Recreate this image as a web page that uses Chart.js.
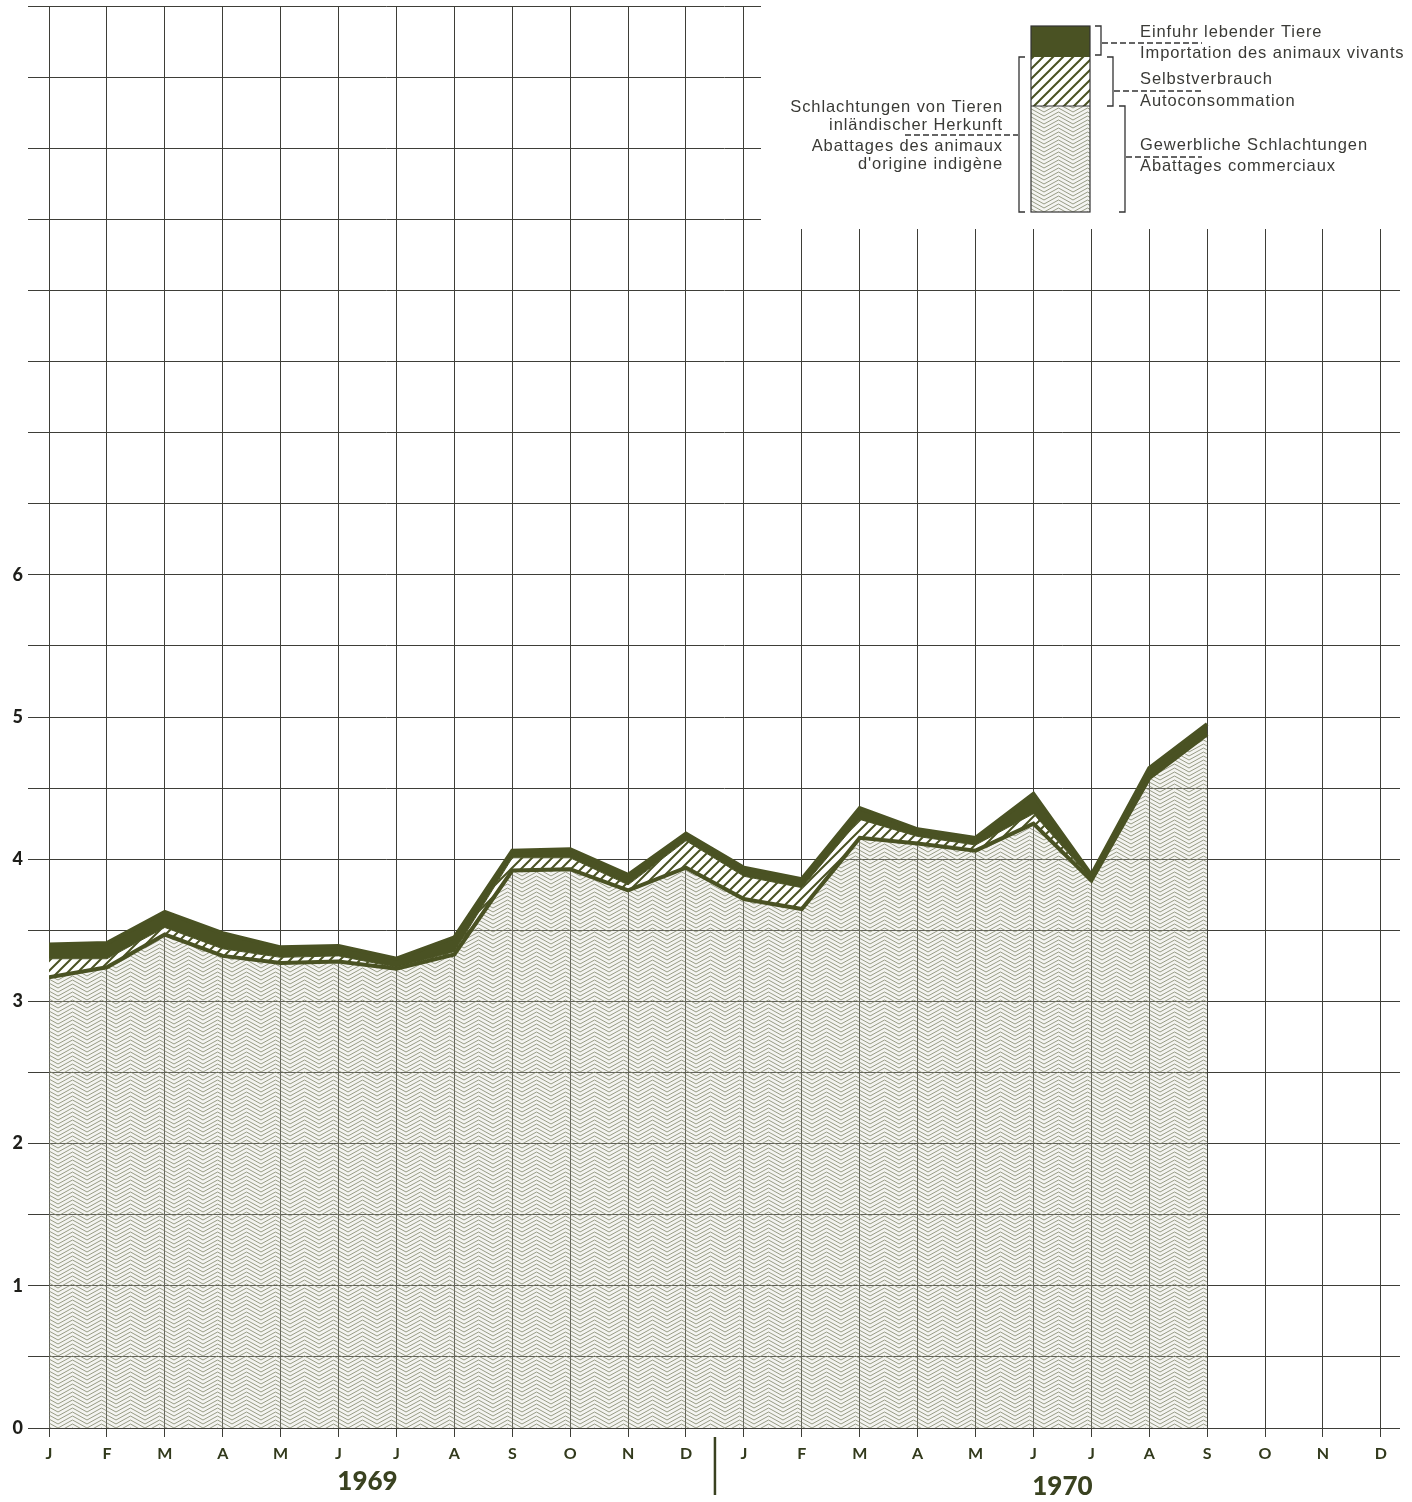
<!DOCTYPE html>
<html>
<head>
<meta charset="utf-8">
<script src="https://cdn.jsdelivr.net/npm/chart.js@4.4.1/dist/chart.umd.min.js"></script>
<style>
  html, body { margin: 0; padding: 0; background: #fff; }
</style>
</head>
<body>
<canvas id="slaughterChart" width="1412" height="1502"></canvas>
<script>
// months Jan 1969 .. Dec 1970, data runs to Sep 1970
const months = ['J','F','M','A','M','J','J','A','S','O','N','D','J','F','M','A','M','J','J','A','S','O','N','D'];
const years = ['1969', '1970'];
const yTickLabels = ['0','1','2','3','4','5','6'];

// Gewerbliche Schlachtungen / Abattages commerciaux
const commercial = [3.17, 3.24, 3.47, 3.32, 3.27, 3.28, 3.23, 3.33, 3.92, 3.93, 3.78, 3.94,
                    3.72, 3.65, 4.15, 4.11, 4.06, 4.25, 3.85, 4.57, 4.88];
// Selbstverbrauch / Autoconsommation
const selfUse = [0.13, 0.06, 0.05, 0.05, 0.04, 0.04, 0.01, 0.02, 0.09, 0.08, 0.04, 0.19,
                 0.16, 0.15, 0.13, 0.05, 0.04, 0.07, 0.01, 0.01, 0.01];
// Einfuhr lebender Tiere / Importation des animaux vivants
const imports = [0.10, 0.11, 0.11, 0.11, 0.07, 0.07, 0.06, 0.10, 0.05, 0.06, 0.07, 0.05,
                 0.06, 0.06, 0.08, 0.05, 0.05, 0.14, 0.03, 0.06, 0.06];

const OLIVE = '#4a5223';
const GRID = '#3e3e38';
const TEXT = '#3a3a36';

function chevronPattern() {
    const c = document.createElement('canvas');
    c.width = 29; c.height = 28;
    const g = c.getContext('2d');
    g.fillStyle = 'rgba(210,212,200,0.25)';
    g.fillRect(0, 0, 29, 28);
    g.strokeStyle = 'rgba(120,126,96,0.75)';
    g.lineWidth = 1;
    for (let y0 = -28; y0 <= 56; y0 += 4) {
        g.beginPath();
        g.moveTo(0, y0 + 8);
        g.lineTo(14.5, y0);
        g.lineTo(29, y0 + 8);
        g.stroke();
    }
    return g.createPattern(c, 'repeat');
}

function hatchPattern() {
    const c = document.createElement('canvas');
    c.width = 10; c.height = 10;
    const g = c.getContext('2d');
    g.fillStyle = '#ffffff';
    g.fillRect(0, 0, 10, 10);
    g.strokeStyle = OLIVE;
    g.lineWidth = 2;
    g.beginPath();
    g.moveTo(-1, 11); g.lineTo(11, -1);
    g.moveTo(-1, 1); g.lineTo(1, -1);
    g.moveTo(9, 11); g.lineTo(11, 9);
    g.stroke();
    return g.createPattern(c, 'repeat');
}

const chevron = chevronPattern();
const hatch = hatchPattern();

const pts = arr => arr.map((v, i) => ({ x: i, y: v }));

const overlay = {
    id: 'overlay',
    beforeDatasetsDraw(chart) {
        const ctx = chart.ctx;
        ctx.save();
        ctx.fillStyle = '#ffffff';
        ctx.fillRect(761, 0, 700, 229);
        ctx.restore();
    },
    afterDraw(chart) {
        const ctx = chart.ctx;
        const xs = chart.scales.x;
        ctx.save();

        // year labels and separator
        ctx.fillStyle = '#3a4220';
        ctx.font = '900 26px Lato';
        ctx.textAlign = 'center';
        ctx.textBaseline = 'middle';
        ctx.fillText(years[0], (xs.getPixelForValue(5) + xs.getPixelForValue(6)) / 2, 1482);
        ctx.fillText(years[1], (xs.getPixelForValue(17) + xs.getPixelForValue(18)) / 2, 1487);
        const sep = (xs.getPixelForValue(11) + xs.getPixelForValue(12)) / 2;
        ctx.strokeStyle = '#3a4220';
        ctx.lineWidth = 2.5;
        ctx.beginPath();
        ctx.moveTo(sep, 1437);
        ctx.lineTo(sep, 1495);
        ctx.stroke();

        // legend swatch
        const bx = 1031, bw = 59;
        ctx.fillStyle = OLIVE;
        ctx.fillRect(bx, 26, bw, 31);
        ctx.fillStyle = hatch;
        ctx.fillRect(bx, 57, bw, 49);
        ctx.fillStyle = '#ffffff';
        ctx.fillRect(bx, 106, bw, 106);
        ctx.fillStyle = chevron;
        ctx.fillRect(bx, 106, bw, 106);
        ctx.strokeStyle = '#333';
        ctx.lineWidth = 1.2;
        ctx.strokeRect(bx, 26, bw, 186);
        ctx.beginPath();
        ctx.moveTo(bx, 106); ctx.lineTo(bx + bw, 106);
        ctx.stroke();

        // brackets
        const bracketR = (x, y1, y2) => {
            ctx.beginPath();
            ctx.moveTo(x - 6, y1); ctx.lineTo(x, y1); ctx.lineTo(x, y2); ctx.lineTo(x - 6, y2);
            ctx.stroke();
        };
        ctx.strokeStyle = '#333';
        ctx.lineWidth = 1.3;
        bracketR(1101, 26, 55);
        bracketR(1113, 57, 106);
        bracketR(1125, 106, 212);
        ctx.beginPath();
        ctx.moveTo(1025, 57); ctx.lineTo(1019, 57); ctx.lineTo(1019, 212); ctx.lineTo(1025, 212);
        ctx.stroke();

        // dashed leaders
        ctx.setLineDash([6, 3]);
        ctx.lineWidth = 1.5;
        const lead = (x1, x2, y) => {
            ctx.beginPath(); ctx.moveTo(x1, y); ctx.lineTo(x2, y); ctx.stroke();
        };
        lead(1102, 1202, 43);
        lead(1114, 1202, 91);
        lead(1126, 1202, 157);
        lead(905, 1018, 135);
        ctx.setLineDash([]);

        // legend text
        ctx.fillStyle = TEXT;
        ctx.font = '16.5px "Liberation Sans"';
        ctx.letterSpacing = '0.9px';
        ctx.textAlign = 'left';
        ctx.fillText('Einfuhr lebender Tiere', 1140, 32);
        ctx.fillText('Importation des animaux vivants', 1140, 53);
        ctx.fillText('Selbstverbrauch', 1140, 79);
        ctx.fillText('Autoconsommation', 1140, 101);
        ctx.fillText('Gewerbliche Schlachtungen', 1140, 145);
        ctx.fillText('Abattages commerciaux', 1140, 166);
        ctx.textAlign = 'right';
        ctx.fillText('Schlachtungen von Tieren', 1003, 107);
        ctx.fillText('inländischer Herkunft', 1003, 125);
        ctx.fillText('Abattages des animaux', 1003, 146);
        ctx.fillText('d\'origine indigène', 1003, 164);
        ctx.restore();
    }
};

new Chart(document.getElementById('slaughterChart'), {
    type: 'line',
    data: {
        datasets: [
            {
                label: 'Gewerbliche Schlachtungen',
                data: pts(commercial),
                backgroundColor: chevron,
                borderColor: OLIVE,
                borderWidth: 4,
                fill: 'origin',
                pointRadius: 0,
                tension: 0
            },
            {
                label: 'Selbstverbrauch',
                data: pts(selfUse),
                backgroundColor: hatch,
                borderColor: OLIVE,
                borderWidth: 1,
                fill: '-1',
                pointRadius: 0,
                tension: 0
            },
            {
                label: 'Einfuhr lebender Tiere',
                data: pts(imports),
                backgroundColor: OLIVE,
                borderColor: OLIVE,
                borderWidth: 4,
                fill: '-1',
                pointRadius: 0,
                tension: 0
            }
        ]
    },
    options: {
        responsive: false,
        animation: false,
        devicePixelRatio: 1,
        layout: { padding: { top: 6, right: 12, left: 0, bottom: 0 } },
        plugins: {
            legend: { display: false },
            tooltip: { enabled: false }
        },
        scales: {
            x: {
                type: 'linear',
                min: 0,
                max: 23.33,
                afterBuildTicks: s => { s.ticks = months.map((m, i) => ({ value: i })); },
                afterFit: s => { s.height = 74; s.paddingLeft = 0; s.paddingRight = 0; },
                grid: { color: GRID, lineWidth: 1, tickLength: 9 },
                border: { display: false },
                ticks: {
                    autoSkip: false,
                    maxRotation: 0,
                    padding: 7,
                    color: '#323a1c',
                    font: { family: 'Lato', weight: 'bold', size: 16 },
                    callback: v => months[v]
                }
            },
            y: {
                stacked: true,
                min: 0,
                max: 10,
                afterFit: s => { s.width = 49; s.paddingTop = 0; s.paddingBottom = 0; },
                grid: { color: GRID, lineWidth: 1, tickLength: 21 },
                border: { display: false },
                ticks: {
                    stepSize: 0.5,
                    padding: 5,
                    color: '#1e1e1a',
                    font: { family: 'Lato', weight: '900', size: 18 },
                    callback: v => (Number.isInteger(v) && v <= 6) ? yTickLabels[v] : ''
                }
            }
        }
    },
    plugins: [overlay]
});
</script>
</body>
</html>
